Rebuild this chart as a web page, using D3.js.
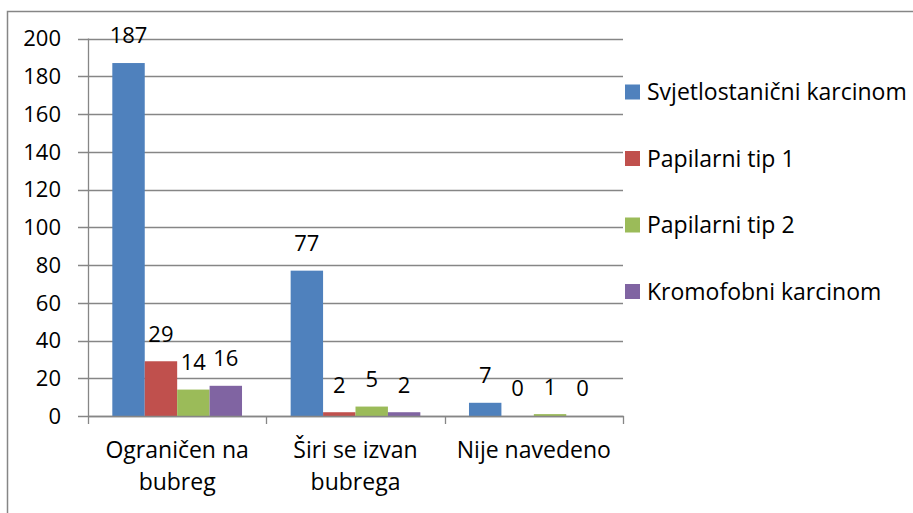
<!DOCTYPE html>
<html>
<head>
<meta charset="utf-8">
<script src="https://cdn.jsdelivr.net/npm/d3@7"></script>
<style>
  body { margin: 0; background: #fff; }
  text { font-family: "Open Sans", sans-serif; fill: #000; }
</style>
</head>
<body>
<script>
// podaci
var kategorije = ["Ograničen na bubreg", "Širi se izvan bubrega", "Nije navedeno"]
var kategorijeRedovi = [["Ograničen na", "bubreg"], ["Širi se izvan", "bubrega"], ["Nije navedeno"]]
var serije = ["Svjetlostanični karcinom", "Papilarni tip 1", "Papilarni tip 2", "Kromofobni karcinom"]
var svjetlostanicni = [187, 77, 7]
var papilarni1 = [29, 2, 0]
var papilarni2 = [14, 5, 1]
var kromofobni = [16, 2, 0]
var yTicks = [0, 20, 40, 60, 80, 100, 120, 140, 160, 180, 200]
var boje = ["#4f81bd", "#c0504d", "#9bbb59", "#8064a2"]

var vrijednosti = [svjetlostanicni, papilarni1, papilarni2, kromofobni]

var svg = d3.select("body").append("svg")
  .attr("width", 913)
  .attr("height", 513)

// okvir grafikona
svg.append("rect")
  .attr("x", 7.5).attr("y", 11.5)
  .attr("width", 960).attr("height", 560)
  .style("fill", "none").style("stroke", "#868686").style("stroke-width", 1.5)

var lijevo = 88, desno = 623, vrh = 38.5, dno = 416

var x = d3.scaleBand().domain(kategorije).range([lijevo, desno]).paddingInner(0).paddingOuter(0)
// Excel razmak 150%: 4 stupca + 1.5 sirine praznog prostora
var x1 = d3.scaleBand().domain(serije)
  .range([x.bandwidth() * 0.75 / 5.5, x.bandwidth() * (1 - 0.75 / 5.5)])
  .paddingInner(0).paddingOuter(0)
var y = d3.scaleLinear().domain([0, 200]).range([dno, vrh])

// mreza
svg.append("g").selectAll("line")
  .data(yTicks)
  .enter()
  .append("line")
  .attr("x1", lijevo - 10).attr("x2", desno)
  .attr("y1", function(d) { return Math.round(y(d)) + 0.5 })
  .attr("y2", function(d) { return Math.round(y(d)) + 0.5 })
  .style("stroke", "#868686").style("stroke-width", 1.3)

// y os
svg.append("line")
  .attr("x1", lijevo + 0.5).attr("x2", lijevo + 0.5)
  .attr("y1", vrh).attr("y2", dno + 1)
  .style("stroke", "#868686").style("stroke-width", 1.3)

svg.append("g").selectAll("text")
  .data(yTicks)
  .enter()
  .append("text")
  .attr("x", 61)
  .attr("y", function(d) { return y(d) })
  .attr("dy", "0.36em")
  .attr("text-anchor", "end")
  .style("font-size", "22px")
  .text(function(d) { return d })

// stupci
var grupe = svg.append("g").selectAll("g")
  .data(kategorije)
  .enter()
  .append("g")
  .attr("transform", function(d) { return "translate(" + x(d) + ",0)" })

grupe.selectAll("rect")
  .data(function(d, i) {
    return serije.map(function(s, j) { return { s: s, j: j, v: vrijednosti[j][i] } })
  })
  .enter()
  .append("rect")
  .attr("x", function(d) { return x1(d.s) })
  .attr("width", x1.bandwidth())
  .attr("y", function(d) { return y(d.v) })
  .attr("height", function(d) { return dno - y(d.v) })
  .style("fill", function(d) { return boje[d.j] })

grupe.selectAll("text")
  .data(function(d, i) {
    return serije.map(function(s, j) { return { s: s, j: j, v: vrijednosti[j][i] } })
  })
  .enter()
  .append("text")
  .attr("x", function(d) { return x1(d.s) + x1.bandwidth() / 2 })
  .attr("y", function(d) { return y(d.v) - 27.5 })
  .attr("dy", "0.36em")
  .attr("text-anchor", "middle")
  .style("font-size", "22px")
  .text(function(d) { return d.v })

// x os
svg.append("line")
  .attr("x1", lijevo).attr("x2", desno + 1)
  .attr("y1", dno + 0.5).attr("y2", dno + 0.5)
  .style("stroke", "#868686").style("stroke-width", 1.3)

var granice = kategorije.map(function(d) { return x(d) }).concat([desno])
svg.append("g").selectAll("line")
  .data(granice)
  .enter()
  .append("line")
  .attr("x1", function(d) { return Math.round(d) + 0.5 })
  .attr("x2", function(d) { return Math.round(d) + 0.5 })
  .attr("y1", dno).attr("y2", dno + 8)
  .style("stroke", "#868686").style("stroke-width", 1.3)

var oznake = svg.append("g").selectAll("text")
  .data(kategorije)
  .enter()
  .append("text")
  .attr("text-anchor", "middle")
  .style("font-size", "23px")
oznake.each(function(d, i) {
  var t = d3.select(this)
  kategorijeRedovi[i].forEach(function(red, k) {
    t.append("tspan")
      .attr("x", x(d) + x.bandwidth() / 2)
      .attr("y", 450 + k * 32)
      .attr("dy", "0.36em")
      .text(red)
  })
})

// legenda
var legenda = svg.append("g").selectAll("g")
  .data(serije)
  .enter()
  .append("g")
  .attr("transform", function(d, i) { return "translate(625," + (92 + i * 66.5) + ")" })
legenda.append("rect")
  .attr("x", 0).attr("y", -7.5)
  .attr("width", 15).attr("height", 15)
  .style("fill", function(d, i) { return boje[i] })
legenda.append("text")
  .attr("x", 22).attr("y", 0)
  .attr("dy", "0.36em")
  .style("font-size", "23px")
  .text(function(d) { return d })
</script>
</body>
</html>
